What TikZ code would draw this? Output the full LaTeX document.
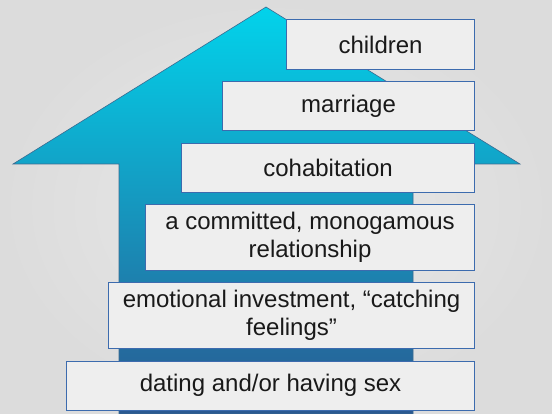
\documentclass[tikz,border=0pt]{standalone}
\usepackage{fontspec}
\setsansfont{Liberation Sans}
\usetikzlibrary{positioning}
\definecolor{wallpaper}{HTML}{E9E9E9}
\definecolor{wallshade}{HTML}{DCDCDC}
\definecolor{roofcyan}{HTML}{02D3EB}
\definecolor{midblue}{HTML}{19AAD2}
\definecolor{walldeep}{HTML}{2A5890}
\definecolor{rim}{HTML}{3B6A90}
\definecolor{cardfill}{HTML}{EEEEEE}
\definecolor{cardline}{HTML}{3C6BAE}

\begin{document}
\begin{tikzpicture}[x=1pt,y=-1pt,font=\sffamily\fontsize{24}{28.5}\selectfont,
  card/.style={draw=cardline,line width=0.9pt,fill=cardfill,text=black!90,align=center,
    inner sep=3pt,minimum height=49pt}]
\useasboundingbox (0,0) rectangle (552,414);
\shade[inner color=wallpaper,outer color=wallshade] (0,0) rectangle (552,414);
% house
\shade[top color=roofcyan,middle color=midblue,bottom color=walldeep,draw=rim,line width=0.6pt]
  (266,7) -- (520,164) -- (413,164) -- (413,414) -- (119,414) -- (119,164) -- (13,164) -- cycle;
% steps, top to bottom
\node[card,minimum width=188pt,minimum height=50pt,anchor=north east] (kids) at (475,19) {children};
\node[card,minimum width=252pt,below=11pt of kids.south east,anchor=north east] (wed) {marriage};
\node[card,minimum width=293pt,below=12pt of wed.south east,anchor=north east] (cohab) {cohabitation};
\node[card,minimum width=329pt,minimum height=66pt,below=11pt of cohab.south east,anchor=north east] (mono)
  {a committed, monogamous\\relationship};
\node[card,minimum width=366pt,minimum height=66pt,below=11pt of mono.south east,anchor=north east] (feel)
  {emotional investment, “catching\\feelings”};
\node[card,minimum width=408pt,below=12pt of feel.south east,anchor=north east] (dating) {dating and/or having sex};
\end{tikzpicture}
\end{document}
